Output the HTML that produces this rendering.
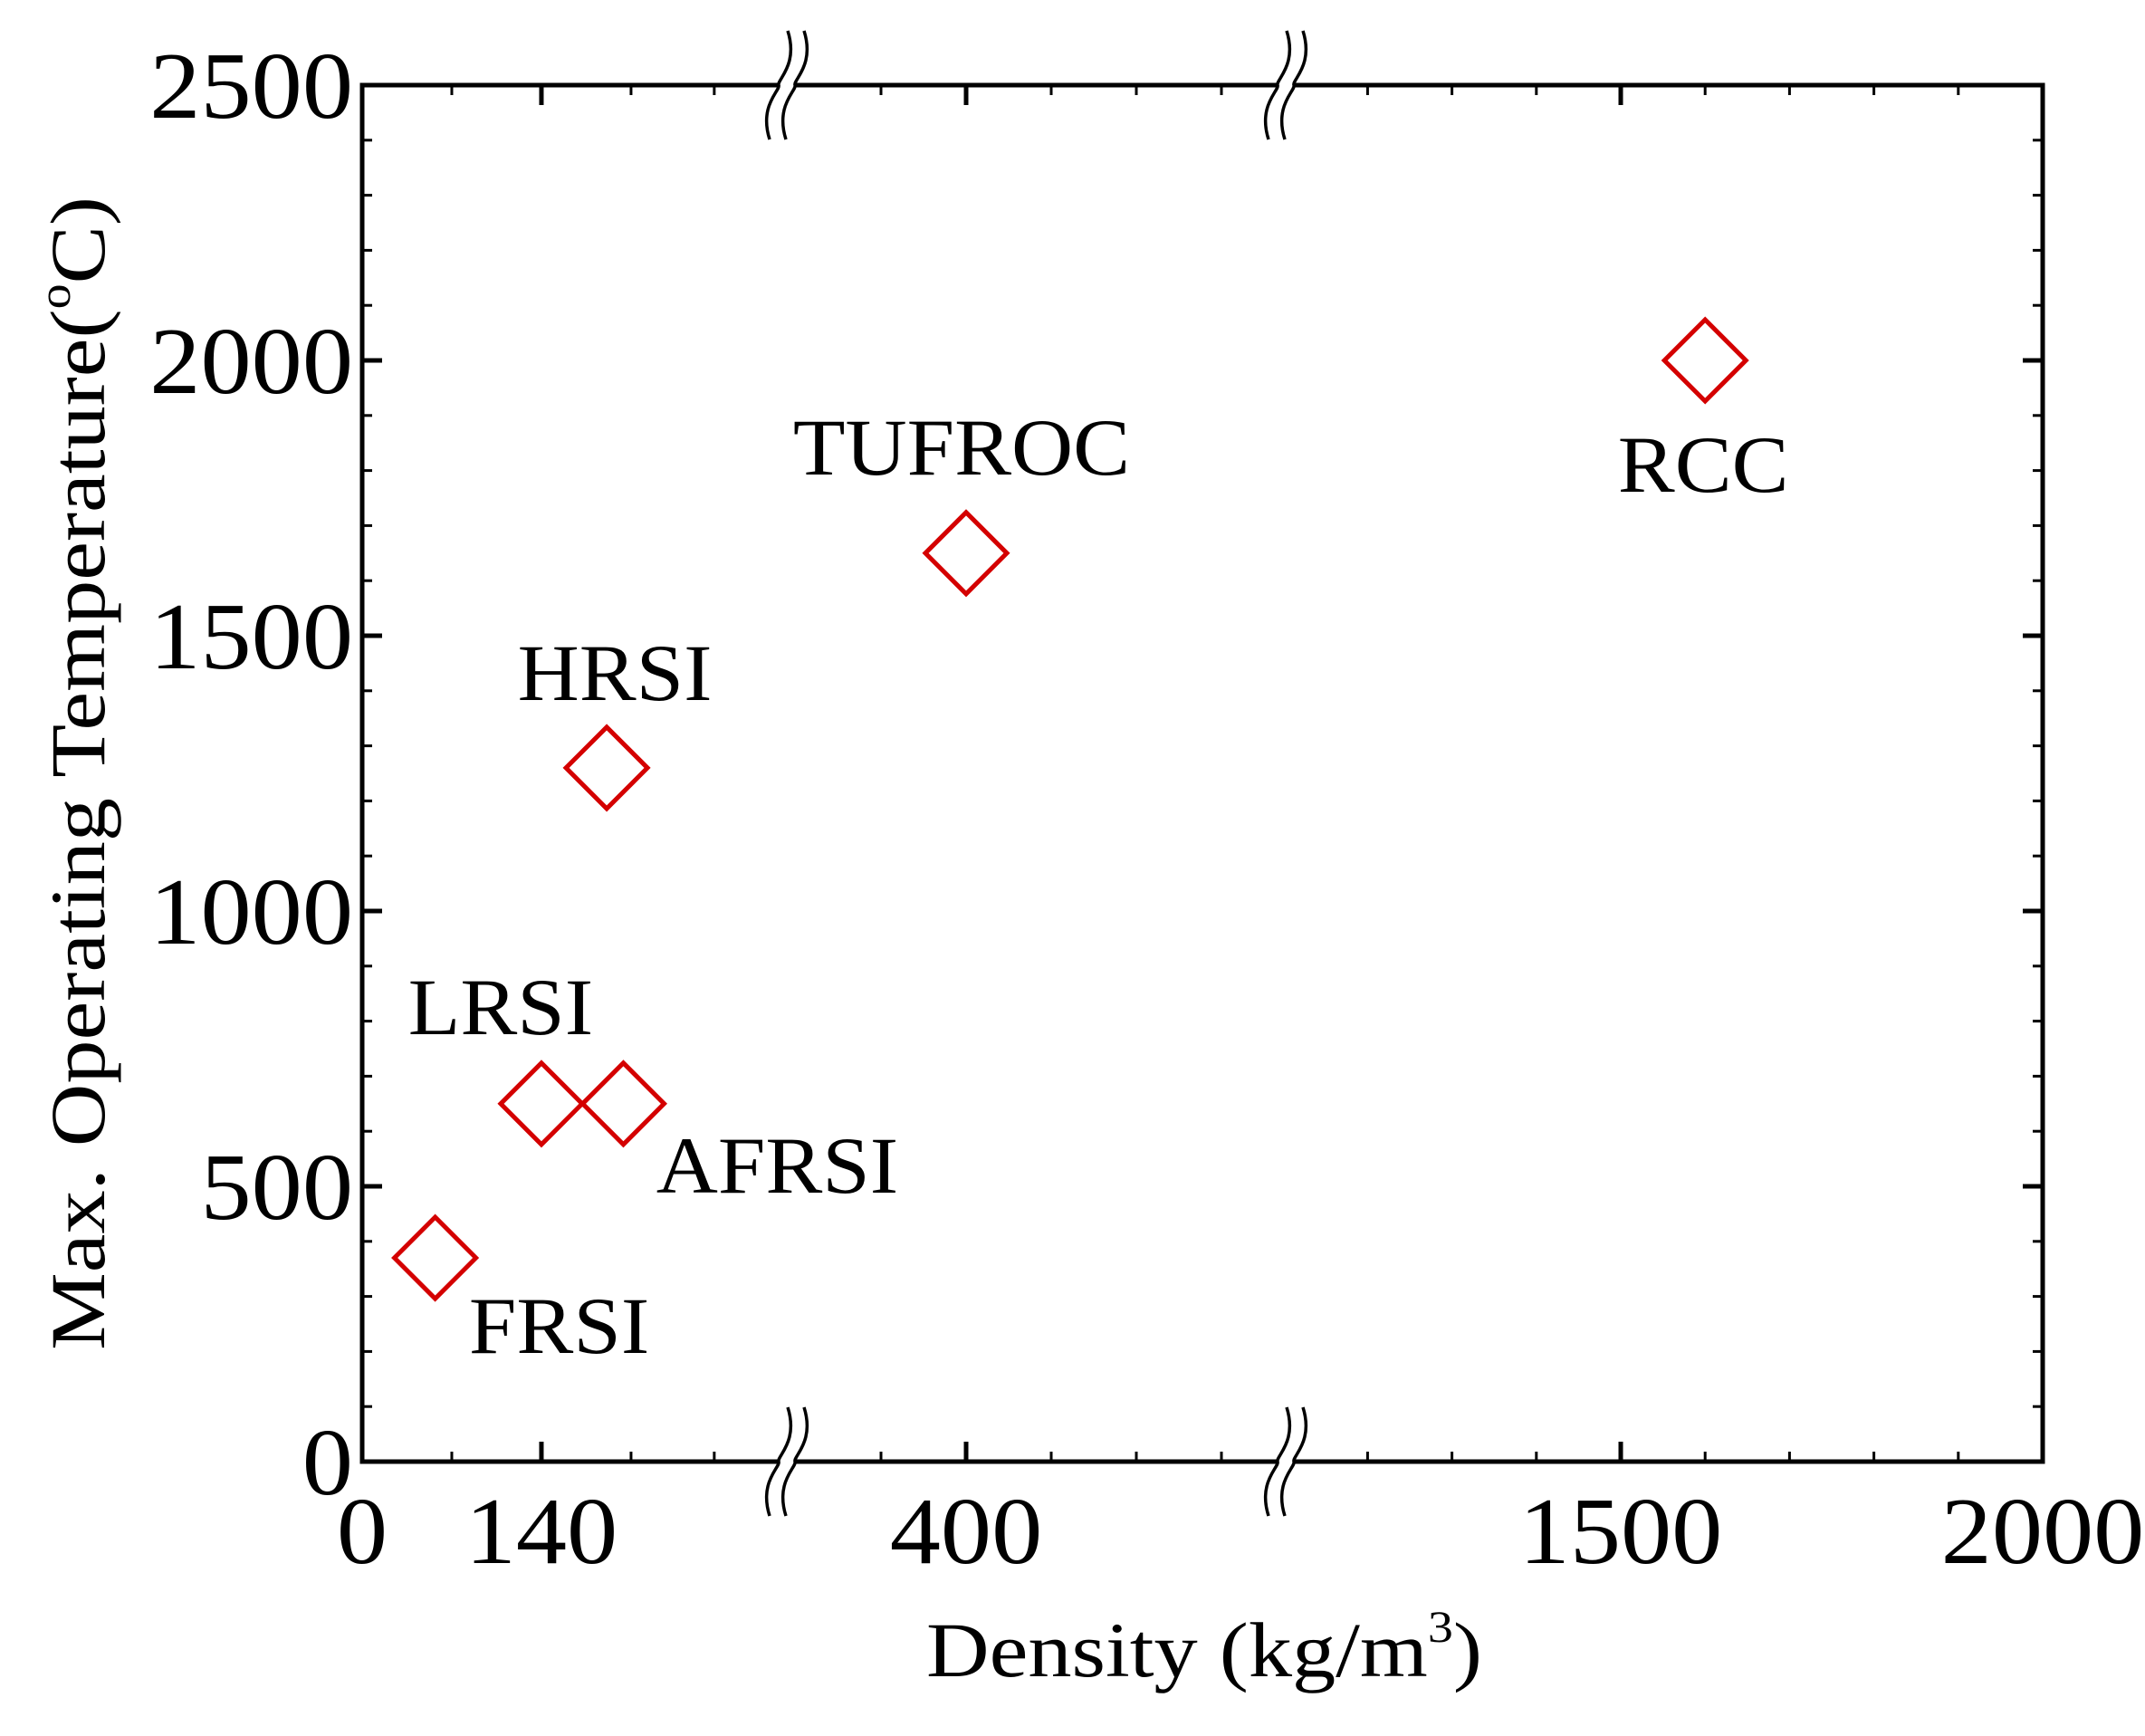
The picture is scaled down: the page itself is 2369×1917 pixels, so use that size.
<!DOCTYPE html>
<html><head><meta charset="utf-8"><style>
html,body{margin:0;padding:0;background:#fff}
svg{display:block}
text{font-family:"Liberation Serif",serif;fill:#000}
</style></head><body>
<svg id="chart" width="2369" height="1917" viewBox="0 0 2369 1917" xmlns="http://www.w3.org/2000/svg">
<g id="axes"></g>
<g id="marks"></g>
<g id="labels"></g>
<text class="st" data-sx="1.12" x="1330" y="1851" font-size="86" text-anchor="middle">Density (kg/m<tspan dy="-38" font-size="50">3</tspan><tspan dy="38">)</tspan></text>
<text class="st" data-sx="1.12" transform="translate(115,854) rotate(-90)" font-size="86" text-anchor="middle">Max. Operating Temperature(<tspan dy="-38" font-size="50">o</tspan><tspan dy="38">C)</tspan></text>
</svg>
<script>
const names = ["FRSI","LRSI","AFRSI","HRSI","TUFROC","RCC"];
const density = [57,140,204,191,400,1600];
const temperature = [370,650,650,1260,1650,2000];
const yTicks = [0,500,1000,1500,2000,2500];
const xTickLabels = [0,140,400,1500,2000];
const xMinor = [70,210,275,350,450,500,550,1200,1300,1400,1600,1700,1800,1900];
const labelOffsets = {FRSI:[137,105],LRSI:[-45,-77],AFRSI:[170,98],HRSI:[9,-75],TUFROC:[-5,-87],RCC:[-2,145]};

const L=400,R=2256,T=94,B=1614;
const BR1=869,BR2=1420;
function X(v){
  if(v<=300) return L+v*1.414;
  if(v<=700) return 1067+(v-400)*1.88;
  return 1790+(v-1500)*0.932;
}
function Y(v){return B-(B-T)*v/2500;}
const NS="http://www.w3.org/2000/svg";
function mk(tag,attrs,parent){const e=document.createElementNS(NS,tag);for(const k in attrs)e.setAttribute(k,attrs[k]);parent.appendChild(e);return e;}
const ax=document.getElementById('axes');
const frame=mk('rect',{x:L,y:T,width:R-L,height:B-T,fill:'none',stroke:'#000','stroke-width':5},ax);


for(let v=0;v<=2500;v+=100){
  const major=v%500===0, len=major?22:11, y=Y(v);
  const t1=mk('line',{x1:L,x2:L+len,y1:y,y2:y,stroke:'#000','stroke-width':major?5:3},ax);
  
  
  const t2=mk('line',{x1:R,x2:R-len,y1:y,y2:y,stroke:'#000','stroke-width':major?5:3},ax);
  
  
}
yTicks.forEach(v=>{
  const t=mk('text',{x:390,y:Y(v)+36,'font-size':105,'text-anchor':'end','class':'st','data-sx':'1.07'},ax);t.textContent=v;
  
  
});
function xt(v,major){
  const len=major?22:11,x=X(v);
  const a=mk('line',{x1:x,x2:x,y1:B,y2:B-len,stroke:'#000','stroke-width':major?5:3},ax);
  
  
  const b=mk('line',{x1:x,x2:x,y1:T,y2:T+len,stroke:'#000','stroke-width':major?5:3},ax);
  
  
}
xMinor.forEach(v=>xt(v,false));
xTickLabels.forEach(v=>{
  if(v>0&&v<2000)xt(v,true);
  const t=mk('text',{x:X(v),y:1726,'font-size':105,'text-anchor':'middle','class':'st','data-sx':'1.07'},ax);t.textContent=v;
  
  
});
[BR1,BR2].forEach(bx=>{[B,T].forEach(by=>{
  const g=mk('g',{},ax);
  
  
  mk('rect',{x:bx-8,y:by-5,width:16,height:10,fill:'#fff'},g);
  [-9,9].forEach(o=>{
    const cx=bx+o;
    mk('path',{d:`M${cx-10} ${by+60} C${cx-22} ${by+22} ${cx+2} ${by+6} ${cx} ${by} C${cx-2} ${by-6} ${cx+22} ${by-22} ${cx+10} ${by-60}`,fill:'none',stroke:'#000','stroke-width':3.5},g);
  });
});});
const mg=document.getElementById('marks'),lg=document.getElementById('labels');
names.forEach((n,i)=>{
  const x=X(density[i]),y=Y(temperature[i]),s=45;
  const p=mk('path',{d:`M${x} ${y-s} L${x+s} ${y} L${x} ${y+s} L${x-s} ${y} Z`,fill:'none',stroke:'#d40000','stroke-width':5},mg);
  
  
  const o=labelOffsets[n];
  const t=mk('text',{x:x+o[0],y:y+o[1],'font-size':89,'text-anchor':'middle','class':'st','data-sx':'1.06'},lg);t.textContent=n;
  
  
});
document.querySelectorAll('text.st').forEach(t=>{
  const w=t.getComputedTextLength();
  t.setAttribute('textLength',(w*parseFloat(t.getAttribute('data-sx'))).toFixed(1));
  t.setAttribute('lengthAdjust','spacingAndGlyphs');
});
</script>
</body></html>
